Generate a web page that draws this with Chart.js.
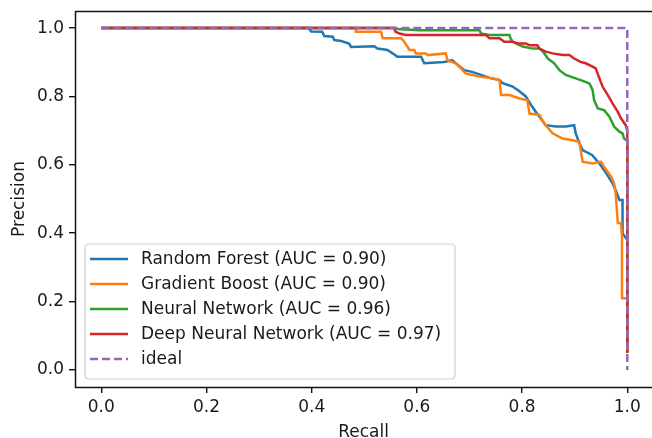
<!DOCTYPE html>
<html><head><meta charset="utf-8">
<script src="https://cdn.jsdelivr.net/npm/chart.js@4/dist/chart.umd.min.js"></script>
<style>html,body{margin:0;padding:0;background:#fff;overflow:hidden}#wrap{width:652px;height:438px;position:relative}</style>
</head><body><div id="wrap"><canvas id="c" width="652" height="438"></canvas></div>
<script>
const seriesLabels = ['Random Forest (AUC = 0.90)', 'Gradient Boost (AUC = 0.90)', 'Neural Network (AUC = 0.96)', 'Deep Neural Network (AUC = 0.97)', 'ideal'];
const seriesColors = ['#1f77b4', '#ff7f0e', '#2ca02c', '#d62728', '#9467bd'];

const rfRecall = [0, 0.394, 0.399, 0.42, 0.424, 0.44, 0.443, 0.456, 0.471, 0.475, 0.519, 0.525, 0.544, 0.557, 0.563, 0.608, 0.614, 0.652, 0.667, 0.674, 0.69, 0.705, 0.722, 0.741, 0.757, 0.763, 0.782, 0.795, 0.807, 0.817, 0.826, 0.833, 0.845, 0.864, 0.883, 0.899, 0.902, 0.909, 0.915, 0.933, 0.947, 0.96, 0.972, 0.978, 0.985, 0.991, 0.991, 1.0, 1.0];
const rfPrecision = [1.0, 1.0, 0.99, 0.989, 0.977, 0.975, 0.965, 0.962, 0.955, 0.945, 0.947, 0.94, 0.936, 0.923, 0.916, 0.916, 0.897, 0.901, 0.906, 0.897, 0.877, 0.872, 0.863, 0.853, 0.848, 0.839, 0.829, 0.815, 0.8, 0.775, 0.755, 0.741, 0.716, 0.712, 0.712, 0.716, 0.692, 0.663, 0.643, 0.629, 0.604, 0.575, 0.546, 0.526, 0.497, 0.497, 0.40, 0.38, 0.05];

const gbRecall = [0, 0.484, 0.484, 0.532, 0.535, 0.57, 0.576, 0.586, 0.595, 0.598, 0.617, 0.62, 0.655, 0.658, 0.674, 0.687, 0.693, 0.719, 0.744, 0.757, 0.76, 0.776, 0.795, 0.81, 0.814, 0.833, 0.842, 0.858, 0.877, 0.896, 0.909, 0.915, 0.934, 0.95, 0.956, 0.969, 0.975, 0.978, 0.982, 0.988, 0.99, 0.99, 1.0, 1.0];
const gbPrecision = [1.0, 1.0, 0.989, 0.989, 0.97, 0.97, 0.96, 0.936, 0.936, 0.926, 0.926, 0.921, 0.926, 0.906, 0.897, 0.877, 0.867, 0.858, 0.853, 0.848, 0.804, 0.804, 0.794, 0.789, 0.75, 0.746, 0.721, 0.692, 0.677, 0.672, 0.667, 0.609, 0.604, 0.609, 0.594, 0.566, 0.546, 0.516, 0.43, 0.43, 0.39, 0.21, 0.21, 0.05];

const nnRecall = [0, 0.56, 0.563, 0.605, 0.719, 0.722, 0.738, 0.776, 0.778, 0.782, 0.795, 0.801, 0.82, 0.833, 0.84, 0.849, 0.861, 0.871, 0.883, 0.902, 0.918, 0.928, 0.934, 0.937, 0.944, 0.956, 0.966, 0.975, 0.985, 0.991, 0.994, 1.0, 1.0];
const nnPrecision = [1.0, 1.0, 0.997, 0.994, 0.994, 0.984, 0.98, 0.98, 0.97, 0.96, 0.95, 0.946, 0.94, 0.94, 0.931, 0.911, 0.897, 0.877, 0.863, 0.853, 0.844, 0.838, 0.819, 0.789, 0.765, 0.76, 0.741, 0.712, 0.697, 0.692, 0.677, 0.67, 0.05];

const dnnRecall = [0, 0.557, 0.559, 0.567, 0.579, 0.731, 0.738, 0.757, 0.766, 0.782, 0.792, 0.807, 0.814, 0.829, 0.833, 0.845, 0.858, 0.877, 0.89, 0.899, 0.911, 0.921, 0.934, 0.94, 0.947, 0.953, 0.963, 0.972, 0.982, 0.988, 0.997, 1.0, 1.0];
const dnnPrecision = [1.0, 1.0, 0.99, 0.984, 0.98, 0.98, 0.97, 0.97, 0.96, 0.96, 0.955, 0.955, 0.95, 0.95, 0.94, 0.931, 0.926, 0.921, 0.921, 0.911, 0.901, 0.897, 0.887, 0.882, 0.853, 0.829, 0.804, 0.78, 0.755, 0.736, 0.716, 0.70, 0.05];

const idealRecall = [0, 1, 1];
const idealPrecision = [1, 1, 0];

const xTickValues = [0, 0.2, 0.4, 0.6, 0.8, 1.0];
const yTickValues = [0, 0.2, 0.4, 0.6, 0.8, 1.0];

const FONT = 'DejaVu Sans';
const FS = 17;
const TXT = '#1a1a1a';

function pts(xs, ys) { return xs.map((x, i) => ({x: x, y: ys[i]})); }

const recalls = [rfRecall, gbRecall, nnRecall, dnnRecall, idealRecall];
const precisions = [rfPrecision, gbPrecision, nnPrecision, dnnPrecision, idealPrecision];

const datasets = seriesLabels.map((lab, i) => ({
  label: lab,
  data: pts(recalls[i], precisions[i]),
  borderColor: seriesColors[i],
  backgroundColor: seriesColors[i],
  borderWidth: 2.5,
  borderDash: i === 4 ? [8, 4] : [],
  pointRadius: 0,
  fill: false,
  tension: 0,
  order: 5 - i
}));

const framePlugin = {
  id: 'frame',
  afterDraw(chart) {
    const ctx = chart.ctx, ca = chart.chartArea;
    ctx.save();
    ctx.strokeStyle = '#111';
    ctx.lineWidth = 1.5;
    ctx.beginPath();
    ctx.moveTo(ca.right + 2, ca.top + 0.5);
    ctx.lineTo(ca.left + 0.5, ca.top + 0.5);
    ctx.lineTo(ca.left + 0.5, ca.bottom + 0.5);
    ctx.lineTo(ca.right + 2, ca.bottom + 0.5);
    ctx.stroke();

    // legend box
    const bx = 85, by = 244, bw = 370, bh = 135, r = 4;
    ctx.beginPath();
    ctx.moveTo(bx + r, by);
    ctx.lineTo(bx + bw - r, by); ctx.quadraticCurveTo(bx + bw, by, bx + bw, by + r);
    ctx.lineTo(bx + bw, by + bh - r); ctx.quadraticCurveTo(bx + bw, by + bh, bx + bw - r, by + bh);
    ctx.lineTo(bx + r, by + bh); ctx.quadraticCurveTo(bx, by + bh, bx, by + bh - r);
    ctx.lineTo(bx, by + r); ctx.quadraticCurveTo(bx, by, bx + r, by);
    ctx.closePath();
    ctx.fillStyle = 'rgba(255,255,255,0.85)';
    ctx.fill();
    ctx.strokeStyle = '#cfcfcf';
    ctx.lineWidth = 1.2;
    ctx.stroke();

    ctx.font = FS + 'px "' + FONT + '"';
    ctx.textBaseline = 'middle';
    ctx.textAlign = 'left';
    chart.data.datasets.forEach((ds, i) => {
      const y = 259 + i * 25;
      ctx.beginPath();
      ctx.setLineDash(ds.borderDash || []);
      ctx.strokeStyle = ds.borderColor;
      ctx.lineWidth = 2.5;
      ctx.moveTo(90, y);
      ctx.lineTo(128, y);
      ctx.stroke();
      ctx.setLineDash([]);
      ctx.fillStyle = TXT;
      ctx.fillText(ds.label, 141, y + 1);
    });
    ctx.restore();
  }
};

new Chart(document.getElementById('c'), {
  type: 'line',
  data: { datasets: datasets },
  plugins: [framePlugin],
  options: {
    responsive: false,
    animation: false,
    layout: { padding: { top: 11, right: 0, bottom: 0, left: 0 } },
    plugins: { legend: { display: false }, tooltip: { enabled: false } },
    scales: {
      x: {
        type: 'linear', min: -0.05, max: 1.047,
        afterFit: s => { s.height = 51; s.paddingLeft = 0; s.paddingRight = 0; },
        afterBuildTicks: s => { s.ticks = xTickValues.map(v => ({ value: v })); },
        ticks: { callback: v => Number(v).toFixed(1), font: { family: FONT, size: FS }, color: TXT, padding: 4, maxRotation: 0, autoSkip: false },
        grid: { drawOnChartArea: false, drawTicks: true, tickLength: 6, color: '#111', lineWidth: 1.4 },
        border: { display: false },
        title: { display: true, text: 'Recall', font: { family: FONT, size: FS, lineHeight: 1 }, color: TXT, padding: { top: 0, bottom: -3 } }
      },
      y: {
        type: 'linear', min: -0.05, max: 1.05,
        afterFit: s => { s.width = 75; s.paddingTop = 0; s.paddingBottom = 0; },
        afterBuildTicks: s => { s.ticks = yTickValues.map(v => ({ value: v })); },
        ticks: { callback: v => Number(v).toFixed(1), font: { family: FONT, size: FS }, color: TXT, padding: 5, autoSkip: false },
        grid: { drawOnChartArea: false, drawTicks: true, tickLength: 6, color: '#111', lineWidth: 1.4 },
        border: { display: false },
        title: { display: true, text: 'Precision', font: { family: FONT, size: FS, lineHeight: 1 }, color: TXT, padding: { top: 11.5, bottom: 0 } }
      }
    }
  }
});
</script>
</body></html>
